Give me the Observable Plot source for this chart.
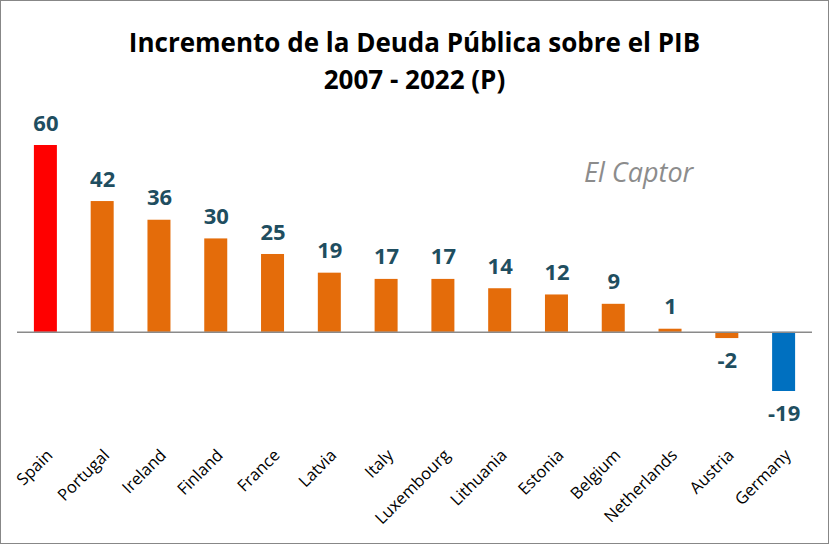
<!DOCTYPE html>
<html>
<head>
<meta charset="utf-8">
<script src="https://cdn.jsdelivr.net/npm/d3@7"></script>
<script src="https://cdn.jsdelivr.net/npm/@observablehq/plot@0.6"></script>
<style>
  html, body { margin: 0; padding: 0; background: #fff; }
  #wrap { position: relative; width: 829px; height: 544px; overflow: hidden; background: #fff; }
  #border { position: absolute; left: 0; top: 0; width: 829px; height: 544px; box-sizing: border-box; border: 1px solid #878787; pointer-events: none; }
  #title { position: absolute; left: 0; top: 24px; width: 829px; text-align: center; font-family: "Open Sans", sans-serif; font-weight: bold; font-size: 26px; line-height: 37px; color: #000; }
  #brand { position: absolute; left: 584px; top: 153px; font-family: "Open Sans", sans-serif; font-style: italic; font-size: 27px; color: #8c8c8c; }
  #chart { position: absolute; left: 0; top: 100px; }
</style>
</head>
<body>
<div id="wrap">
  <div id="title">Incremento de la Deuda Pública sobre el PIB<br>2007 - 2022 (P)</div>
  <div id="brand">El Captor</div>
  <div id="chart"></div>
  <div id="border"></div>
</div>
<script>
const countries = ["Spain","Portugal","Ireland","Finland","France","Latvia","Italy","Luxembourg","Lithuania","Estonia","Belgium","Netherlands","Austria","Germany"];
const values = [60, 42, 36, 30, 25, 19, 17, 17, 14, 12, 9, 1, -2, -19];
const barColors = ["#FF0000","#E46C0A","#E46C0A","#E46C0A","#E46C0A","#E46C0A","#E46C0A","#E46C0A","#E46C0A","#E46C0A","#E46C0A","#E46C0A","#E46C0A","#0070C0"];

const data = countries.map((c, i) => ({country: c, value: values[i], color: barColors[i]}));

const chart = Plot.plot({
  width: 829,
  height: 443,
  marginLeft: 17,
  marginRight: 17,
  marginTop: 0,
  marginBottom: 98,
  style: {fontFamily: "'Open Sans', sans-serif", background: "transparent", overflow: "visible"},
  x: {domain: countries, paddingInner: 0.595, paddingOuter: 0.2975, round: false, label: null},
  y: {domain: [-19, 60], range: [291, 45], axis: null},
  marks: [
    Plot.barY(data, {x: "country", y: "value", fill: "color"}),
    Plot.ruleY([0], {stroke: "#8a8a8a", strokeWidth: 1.5}),
    Plot.text(data.filter(d => d.value >= 0), {x: "country", y: "value", text: d => String(d.value), dy: -22, fill: "#1F4E60", fontSize: 22, fontWeight: "bold"}),
    Plot.text(data.filter(d => d.value < 0), {x: "country", y: "value", text: d => String(d.value), dy: 22, fill: "#1F4E60", fontSize: 22, fontWeight: "bold"}),
    Plot.axisX({tickSize: 0, tickRotate: -45, tickPadding: 7, fontSize: 16.5, fill: "#000", label: null, dx: 4})
  ]
});
document.getElementById("chart").appendChild(chart);
</script>
</body>
</html>
